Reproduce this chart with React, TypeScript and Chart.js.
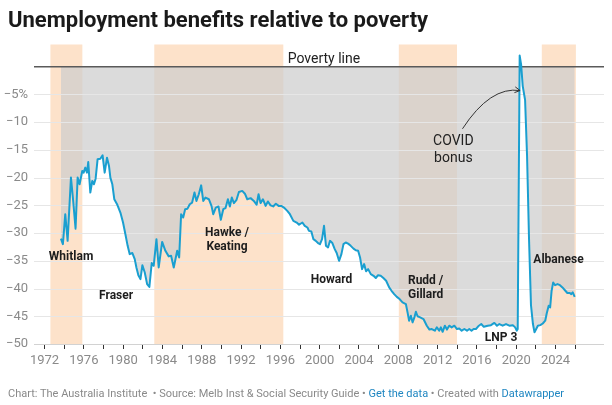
import { useEffect, useRef } from 'react';
import { Chart, registerables } from 'chart.js';

Chart.register(...registerables);

// ---- Data ----
const years = [
  1973.67, 1973.87, 1974.11, 1974.35, 1974.69, 1974.9, 1975.16, 1975.37, 1975.57, 1975.84,
  1975.98, 1976.15, 1976.32, 1976.45, 1976.66, 1976.86, 1977.03, 1977.2, 1977.4, 1977.68,
  1977.91, 1978.12, 1978.36, 1978.56, 1978.7, 1978.9, 1979.1, 1979.38, 1979.72, 1979.99,
  1980.23, 1980.46, 1980.67, 1980.94, 1981.18, 1981.35, 1981.55, 1981.76, 1981.96, 1982.2,
  1982.44, 1982.67, 1982.91, 1983.11, 1983.39, 1983.62, 1983.97, 1984.3, 1984.64, 1984.88,
  1985.15, 1985.5, 1985.7, 1985.9, 1986.11, 1986.31, 1986.55, 1986.78, 1987.02, 1987.26,
  1987.46, 1987.7, 1987.94, 1988.15, 1988.38, 1988.72, 1988.99, 1989.17, 1989.43, 1989.7,
  1989.94, 1990.19, 1990.42, 1990.66, 1990.86, 1991.06, 1991.27, 1991.54, 1991.78, 1992.12,
  1992.39, 1992.63, 1992.97, 1993.3, 1993.58, 1993.78, 1993.98, 1994.22, 1994.5, 1994.73,
  1995.0, 1995.27, 1995.54, 1995.82, 1996.09, 1996.36, 1996.7, 1996.97, 1997.32, 1997.66,
  1997.9, 1998.24, 1998.48, 1998.75, 1998.91, 1999.15, 1999.36, 1999.6, 1999.83, 2000.03,
  2000.24, 2000.44, 2000.64, 2000.85, 2001.05, 2001.29, 2001.53, 2001.73, 2001.97, 2002.21,
  2002.42, 2002.65, 2002.89, 2003.16, 2003.44, 2003.67, 2003.91, 2004.11, 2004.31, 2004.52,
  2004.72, 2004.93, 2005.2, 2005.48, 2005.71, 2005.94, 2006.21, 2006.48, 2006.76, 2007.07,
  2007.31, 2007.58, 2007.85, 2008.13, 2008.43, 2008.77, 2008.94, 2009.1, 2009.28, 2009.45,
  2009.62, 2009.79, 2009.96, 2010.22, 2010.56, 2010.9, 2011.17, 2011.41, 2011.72, 2011.92,
  2012.16, 2012.33, 2012.51, 2012.74, 2012.95, 2013.18, 2013.43, 2013.7, 2013.97, 2014.2,
  2014.45, 2014.72, 2014.99, 2015.22, 2015.45, 2015.66, 2015.9, 2016.2, 2016.44, 2016.7,
  2017.1, 2017.43, 2017.77, 2018.04, 2018.28, 2018.62, 2018.96, 2019.3, 2019.65, 2019.89,
  2020.05, 2020.15, 2020.35, 2020.5, 2020.66, 2020.9, 2021.1, 2021.3, 2021.5, 2021.7,
  2021.86, 2022.03, 2022.2, 2022.45, 2022.7, 2022.95, 2023.1, 2023.3, 2023.45, 2023.6,
  2023.76, 2023.95, 2024.2, 2024.45, 2024.7, 2025.0, 2025.2, 2025.45, 2025.6, 2025.75,
  2025.95,
];

const values = [
  -31.0, -32.0, -26.6, -31.4, -20.0, -23.9, -29.2, -20.0, -21.2, -18.8,
  -19.1, -18.2, -19.1, -17.2, -22.7, -20.6, -21.2, -20.2, -16.7, -16.6,
  -16.0, -19.1, -16.4, -17.9, -20.0, -21.2, -23.9, -24.8, -26.3, -28.1,
  -30.2, -32.3, -33.8, -33.6, -34.7, -36.2, -37.6, -38.3, -35.8, -37.1,
  -39.2, -39.7, -35.4, -35.9, -31.1, -36.2, -31.6, -33.2, -34.2, -34.1,
  -36.2, -33.2, -34.4, -26.6, -27.2, -25.7, -25.6, -24.8, -24.5, -22.7,
  -24.2, -23.0, -21.4, -24.2, -23.6, -23.9, -25.1, -26.6, -25.4, -25.2,
  -27.6, -25.7, -25.5, -23.9, -25.2, -23.6, -24.6, -24.0, -22.6, -22.4,
  -22.9, -23.9, -23.7, -24.2, -24.9, -23.0, -24.6, -23.9, -25.1, -24.3,
  -25.0, -25.2, -24.7, -25.1, -25.1, -25.4, -26.0, -26.6, -27.8, -28.1,
  -28.5, -28.1, -28.7, -29.0, -29.6, -29.7, -31.1, -31.4, -31.8, -32.0,
  -31.1, -28.7, -32.3, -32.6, -31.4, -31.8, -32.9, -33.6, -35.0, -33.8,
  -32.0, -31.7, -31.9, -32.3, -32.8, -33.1, -33.2, -34.4, -36.5, -35.6,
  -36.9, -36.5, -37.4, -37.7, -38.1, -37.6, -37.7, -38.1, -38.6, -39.8,
  -40.4, -41.0, -41.5, -41.9, -42.5, -42.8, -44.3, -45.8, -44.9, -46.1,
  -45.3, -44.2, -45.0, -45.2, -45.5, -46.7, -47.4, -47.3, -47.6, -47.0,
  -47.6, -47.0, -47.8, -46.7, -47.4, -46.7, -47.0, -46.7, -47.3, -47.2,
  -47.6, -47.3, -47.6, -47.3, -47.6, -47.3, -47.3, -46.7, -46.4, -46.9,
  -46.7, -46.6, -46.2, -46.7, -46.4, -46.7, -46.4, -46.7, -46.6, -47.0,
  -47.6, -47.3, 2.0, 0.3, -3.5, -6.0, -16.0, -31.0, -43.0, -46.4,
  -47.9, -47.3, -46.7, -46.6, -46.3, -45.8, -44.5, -43.1, -43.4, -40.4,
  -38.9, -39.4, -39.2, -39.4, -39.8, -40.4, -40.8, -40.8, -41.0, -40.7,
  -41.5,
];

// Government periods (shaded bands)
const bandStarts = [1972.6, 1983.17, 2008.05, 2022.6];
const bandEnds = [1975.85, 1996.3, 2013.97, 2026.07];

// Period labels
const labelTexts = [['Whitlam'], ['Fraser'], ['Hawke /', 'Keating'], ['Howard'], ['Rudd /', 'Gillard'], ['LNP 3'], ['Albanese']];
const labelYears = [1974.7, 1979.28, 1990.57, 2001.2, 2010.78, 2018.45, 2024.3];
const labelValues = [-34.3, -41.3, -31.25, -38.5, -39.9, -48.9, -34.9];

// COVID annotation
const covidText = ['COVID', 'bonus'];
const covidYear = 2013.6;
const covidValue = -15.0;
const arrowStart = { x: 2014.53, y: -11.2 };
const arrowCtrl = { x: 2017.36, y: -3.5 };
const arrowEnd = { x: 2020.39, y: -4.3 };

const povertyLabel = 'Poverty line';
const povertyLabelYear = 2000.43;

// Axis ticks
const xTickYears = [
  1972, 1974, 1976, 1978, 1980, 1982, 1984, 1986, 1988, 1990, 1992, 1994, 1996, 1998,
  2000, 2002, 2004, 2006, 2008, 2010, 2012, 2014, 2016, 2018, 2020, 2022, 2024, 2026,
];
const xLabelYears = [1972, 1976, 1980, 1984, 1988, 1992, 1996, 2000, 2004, 2008, 2012, 2016, 2020, 2024];
const yTickValues = [-50, -45, -40, -35, -30, -25, -20, -15, -10, -5];

// ---- Styles ----
const LINE_COLOR = '#1a9fd0';
const BAND_COLOR = 'rgb(253,226,202)';
const FILL_COLOR = 'rgba(205,205,205,0.72)';
const GRID_COLOR = '#e6e6e6';
const FONT = 'Roboto';

const overlayPlugin = {
  id: 'overlay',
  beforeDraw(chart: any) {
    const { ctx, chartArea: a, scales } = chart;
    const x = scales.x;
    ctx.save();
    ctx.fillStyle = BAND_COLOR;
    for (let i = 0; i < bandStarts.length; i++) {
      const x0 = x.getPixelForValue(bandStarts[i]);
      const x1 = x.getPixelForValue(bandEnds[i]);
      ctx.fillRect(x0, a.top, x1 - x0, a.bottom - a.top);
    }
    ctx.restore();
  },
  beforeDatasetsDraw(chart: any) {
    const { ctx, chartArea: a, scales } = chart;
    const y = scales.y;
    ctx.save();
    ctx.lineWidth = 1;
    for (const v of yTickValues) {
      const py = Math.round(y.getPixelForValue(v)) + 0.5;
      ctx.strokeStyle = v === -50 ? '#d2d2d2' : GRID_COLOR;
      ctx.beginPath();
      ctx.moveTo(a.left, py);
      ctx.lineTo(a.right, py);
      ctx.stroke();
    }
    const p0 = y.getPixelForValue(0);
    ctx.strokeStyle = '#5a5a5a';
    ctx.lineWidth = 1.5;
    ctx.beginPath();
    ctx.moveTo(a.left, p0);
    ctx.lineTo(a.right, p0);
    ctx.stroke();
    ctx.restore();
  },
  afterDatasetsDraw(chart: any) {
    const { ctx, scales } = chart;
    const x = scales.x;
    const y = scales.y;
    ctx.save();
    // Poverty line label
    ctx.font = `400 14px ${FONT}`;
    ctx.fillStyle = '#222';
    ctx.textAlign = 'center';
    ctx.textBaseline = 'alphabetic';
    ctx.fillText(povertyLabel, x.getPixelForValue(povertyLabelYear), y.getPixelForValue(0) - 4);

    // Period labels
    ctx.font = `700 12px ${FONT}`;
    ctx.fillStyle = '#1d1d1d';
    ctx.textBaseline = 'middle';
    const lh = 14.5;
    for (let i = 0; i < labelTexts.length; i++) {
      const lines = labelTexts[i];
      const cx = x.getPixelForValue(labelYears[i]);
      const cy = y.getPixelForValue(labelValues[i]);
      lines.forEach((t, j) => {
        ctx.fillText(t, cx, cy + (j - (lines.length - 1) / 2) * lh);
      });
    }

    // COVID annotation
    ctx.font = `400 14px ${FONT}`;
    ctx.fillStyle = '#222';
    const ccx = x.getPixelForValue(covidYear);
    const ccy = y.getPixelForValue(covidValue);
    covidText.forEach((t, j) => {
      ctx.fillText(t, ccx, ccy + (j - 0.5) * 16.5);
    });

    // Arrow
    const sx = x.getPixelForValue(arrowStart.x), sy = y.getPixelForValue(arrowStart.y);
    const qx = x.getPixelForValue(arrowCtrl.x), qy = y.getPixelForValue(arrowCtrl.y);
    const ex = x.getPixelForValue(arrowEnd.x), ey = y.getPixelForValue(arrowEnd.y);
    ctx.strokeStyle = '#333';
    ctx.lineWidth = 1;
    ctx.beginPath();
    ctx.moveTo(sx, sy);
    ctx.quadraticCurveTo(qx, qy, ex, ey);
    ctx.stroke();
    const ang = Math.atan2(ey - qy, ex - qx);
    const hl = 6;
    ctx.beginPath();
    ctx.moveTo(ex - hl * Math.cos(ang - 0.5), ey - hl * Math.sin(ang - 0.5));
    ctx.lineTo(ex, ey);
    ctx.lineTo(ex - hl * Math.cos(ang + 0.5), ey - hl * Math.sin(ang + 0.5));
    ctx.stroke();
    ctx.restore();
  },
};

export default function App() {
  const ref = useRef<HTMLCanvasElement>(null);

  useEffect(() => {
    const canvas = ref.current;
    if (!canvas) return;
    const chart = new Chart(canvas, {
      type: 'line',
      data: {
        datasets: [
          {
            data: years.map((yr, i) => ({ x: yr, y: values[i] })),
            borderColor: LINE_COLOR,
            borderWidth: 2,
            pointRadius: 0,
            tension: 0,
            fill: 'origin',
            backgroundColor: FILL_COLOR,
            borderJoinStyle: 'round',
          },
        ],
      },
      options: {
        responsive: false,
        animation: false,
        devicePixelRatio: 1,
        layout: { padding: { top: 44.5, right: 8, bottom: 31, left: 0 } },
        plugins: {
          legend: { display: false },
          tooltip: { enabled: false },
          filler: { drawTime: 'beforeDatasetsDraw' },
        } as any,
        scales: {
          x: {
            type: 'linear',
            min: 1970.93,
            max: 2028.93,
            grid: { display: true, drawOnChartArea: false, drawTicks: true, tickLength: 5, tickColor: '#333', tickWidth: 1 },
            border: { display: false },
            afterBuildTicks: (s: any) => {
              s.ticks = xTickYears.map((v) => ({ value: v }));
            },
            afterFit: (s: any) => {
              s.height = 30;
            },
            ticks: {
              autoSkip: false,
              maxRotation: 0,
              padding: 4,
              color: '#8a8a8a',
              font: { family: FONT, size: 13 },
              callback: (v: any) => (xLabelYears.includes(Number(v)) ? String(v) : ''),
            },
          },
          y: {
            type: 'linear',
            min: -50,
            max: 4,
            grid: { display: false, drawTicks: false },
            border: { display: false },
            afterFit: (s: any) => {
              s.width = 34;
            },
            ticks: {
              stepSize: 5,
              includeBounds: false,
              padding: 6,
              color: '#8a8a8a',
              font: { family: FONT, size: 13 },
              callback: (v: any) => {
                const n = Number(v);
                if (n >= 0) return '';
                if (n === -5) return '\u22125%';
                return '\u2212' + Math.abs(n);
              },
            },
          },
        },
      } as any,
      plugins: [overlayPlugin],
    });
    return () => chart.destroy();
  }, []);

  const footerGray = '#8a8a8a';
  const link = '#1f86c1';
  return (
    <div style={{ position: 'absolute', left: 0, top: 0, width: 612, height: 405, background: '#fff', fontFamily: FONT, overflow: 'hidden' }}>
      <canvas ref={ref} width={612} height={405} style={{ position: 'absolute', left: 0, top: 0, width: 612, height: 405 }} />
      <div style={{ position: 'absolute', left: 8, top: 6.5, fontSize: 22, lineHeight: '26px', fontWeight: 700, color: '#1a1a1a', whiteSpace: 'nowrap' }}>
        Unemployment benefits relative to poverty
      </div>
      <div style={{ position: 'absolute', left: 8, top: 387, fontSize: 11, lineHeight: '13px', color: footerGray, whiteSpace: 'nowrap' }}>
        Chart: The Australia Institute &nbsp;• Source: Melb Inst &amp; Social Security Guide • <span style={{ color: link }}>Get the data</span> • Created with <span style={{ color: link }}>Datawrapper</span>
      </div>
    </div>
  );
}
